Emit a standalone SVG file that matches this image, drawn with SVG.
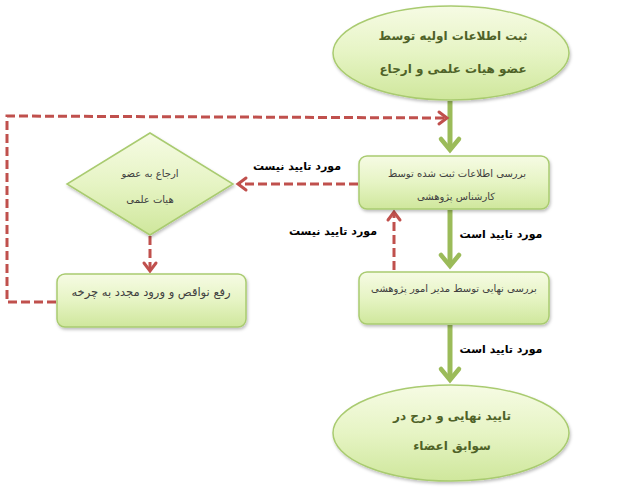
<svg xmlns="http://www.w3.org/2000/svg" width="625" height="488" viewBox="0 0 625 488">
<defs>
<linearGradient id="gf" x1="0" y1="0" x2="0" y2="1">
<stop offset="0" stop-color="#f6fbe4"/>
<stop offset="0.5" stop-color="#e6f4c4"/>
<stop offset="1" stop-color="#cfe79c"/>
</linearGradient>
<filter id="sh" x="-10%" y="-10%" width="125%" height="130%">
<feDropShadow dx="1" dy="2" stdDeviation="1.5" flood-color="#000" flood-opacity="0.25"/>
</filter>
<marker id="ag" markerUnits="userSpaceOnUse" viewBox="-2 -2 16 22" refX="11" refY="9" markerWidth="16" markerHeight="22" orient="auto" overflow="visible">
<path d="M0,0 L11,9 L0,18" fill="none" stroke="#9bbb59" stroke-width="4.5" stroke-linecap="round" stroke-linejoin="miter"/>
</marker>
<marker id="ar" markerUnits="userSpaceOnUse" viewBox="-2 -2 12 16" refX="8" refY="6" markerWidth="12" markerHeight="16" orient="auto" overflow="visible">
<path d="M0,0 L8,6 L0,12" fill="none" stroke="#c0504d" stroke-width="3" stroke-linecap="round"/>
</marker>
</defs>
<style>
.nd{fill:url(#gf);stroke:#a9cb70;stroke-width:1.5;filter:url(#sh)}
.g{fill:none;stroke:#9bbb59;stroke-width:5;marker-end:url(#ag)}
.r{fill:none;stroke:#c0504d;stroke-width:3;stroke-dasharray:9 4;marker-end:url(#ar)}
.t{font-family:"DejaVu Sans",sans-serif;text-anchor:middle;direction:rtl}
.big{font-size:12px;font-weight:bold;fill:#4f6228}
.sm{font-size:10px;fill:#404040}
.lb{font-size:11px;font-weight:bold;fill:#000}
</style>
<g id="connectors">
<line class="g" x1="450" y1="101" x2="450" y2="150"/>
<line class="g" x1="450" y1="210" x2="450" y2="266"/>
<line class="g" x1="450" y1="325" x2="450" y2="380"/>
<line class="r" x1="358" y1="184" x2="238" y2="184"/>
<line class="r" x1="394" y1="270" x2="394" y2="212"/>
<line class="r" x1="150" y1="236" x2="150" y2="271"/>
<polyline class="r" points="56,302 7,302 7,116 447,118"/>
<text class="t lb" x="297" y="170">مورد تایید نیست</text>
<text class="t lb" x="333" y="235">مورد تایید نیست</text>
<text class="t lb" x="501" y="238">مورد تایید است</text>
<text class="t lb" x="501" y="353">مورد تایید است</text>
</g>
<g id="start">
<ellipse class="nd" cx="451" cy="53" rx="118" ry="47"/>
<text class="t big" x="453" y="40">ثبت اطلاعات اولیه توسط</text>
<text class="t big" x="453" y="73">عضو هیات علمی و ارجاع</text>
</g>
<g id="review1">
<rect class="nd" x="359" y="156" width="190" height="53" rx="8"/>
<text class="t sm" x="457" y="177">بررسی اطلاعات ثبت شده توسط</text>
<text class="t sm" x="456" y="200">کارشناس پژوهشی</text>
</g>
<g id="refer">
<polygon class="nd" points="150,133 233,184 150,235 67,184"/>
<text class="t sm" x="150" y="177">ارجاع به عضو</text>
<text class="t sm" x="150" y="203">هیات علمی</text>
</g>
<g id="fix">
<rect class="nd" x="57" y="274" width="189" height="53" rx="8"/>
<text class="t sm" x="151" y="296" style="font-size:11.5px">رفع نواقص و ورود مجدد به چرخه</text>
</g>
<g id="review2">
<rect class="nd" x="359" y="272" width="190" height="52" rx="8"/>
<text class="t sm" x="454" y="292">بررسی نهایی توسط مدیر امور پژوهشی</text>
</g>
<g id="end">
<ellipse class="nd" cx="451" cy="433" rx="118" ry="48"/>
<text class="t big" x="452" y="420">تایید نهایی و درج در</text>
<text class="t big" x="452" y="450">سوابق اعضاء</text>
</g>
</svg>
